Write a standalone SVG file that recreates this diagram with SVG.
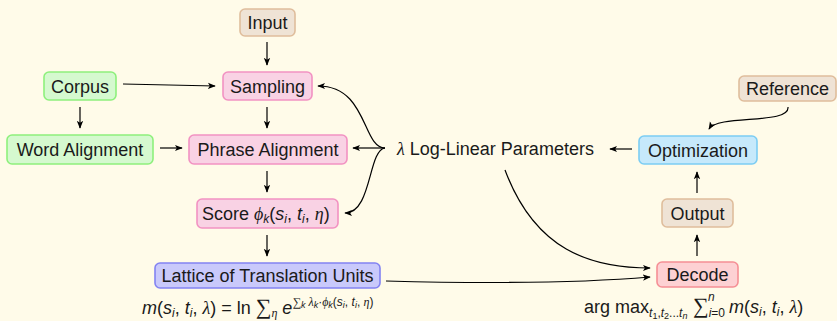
<svg xmlns="http://www.w3.org/2000/svg" width="837" height="321" viewBox="0 0 837 321">
<defs>
<marker id="ah" viewBox="0 0 10 10" refX="9" refY="5" markerWidth="8" markerHeight="8" markerUnits="userSpaceOnUse" orient="auto">
<path d="M0,1 L10,5 L0,9 L2.5,5 Z" fill="#000"/>
</marker>
</defs>
<style>
text{font-family:"Liberation Sans",Arial,sans-serif;font-size:18px;fill:#1a1a1a}
.n{text-anchor:middle}
.box{stroke-width:1.6}
.beige{fill:#efe3d5;stroke:#dfbd9c}
.green{fill:#d5f9cf;stroke:#8ef07c}
.pink{fill:#f9d2e4;stroke:#f292c2}
.blue{fill:#c9c9fb;stroke:#8383f2}
.cyan{fill:#c6e9fb;stroke:#7ccdf3}
.red{fill:#fdd1d3;stroke:#f58f95}
.c{fill:none;stroke:#000;stroke-width:1.2;marker-end:url(#ah)}
.m{font-style:italic}
.g{font-family:"Liberation Serif","Times New Roman",serif;font-style:italic}
.s{font-size:12px}
.ss{font-size:9px}
</style>
<rect width="837" height="321" fill="#fffbe9"/>
<g id="connectors">
<path class="c" d="M267,42 L267,65"/>
<path class="c" d="M123,84 L215,86"/>
<path class="c" d="M80,107 L80,128"/>
<path class="c" d="M267,107 L267,128"/>
<path class="c" d="M160,148 L182,148"/>
<path class="c" d="M267,171 L267,192"/>
<path class="c" d="M267,235 L267,256"/>
<path class="c" d="M385,148 L353,148"/>
<path class="c" d="M385,148 C362,148 368,86 318,86"/>
<path class="c" d="M385,148 C368,150 372,213 345,213"/>
<path class="c" d="M505,170 C535,250 590,268 650,268"/>
<path class="c" d="M386,281 C500,284 580,283 650,277"/>
<path class="c" d="M632,149 L610,149"/>
<path class="c" d="M788,107 C790,125 718,114 709,129"/>
<path class="c" d="M697,193 L697,172"/>
<path class="c" d="M697,256 L697,235"/>
</g>
<g id="input"><rect class="box beige" x="240" y="9" width="55" height="27" rx="5"/><text class="n" x="267.5" y="29">Input</text></g>
<g id="sampling"><rect class="box pink" x="223" y="72" width="89" height="28" rx="5"/><text class="n" x="267.5" y="92.5">Sampling</text></g>
<g id="corpus"><rect class="box green" x="44" y="72" width="72" height="28" rx="5"/><text class="n" x="80" y="92.5">Corpus</text></g>
<g id="word-alignment"><rect class="box green" x="7" y="135" width="146" height="29" rx="5"/><text class="n" x="80" y="156">Word Alignment</text></g>
<g id="phrase-alignment"><rect class="box pink" x="189" y="135" width="158" height="29" rx="5"/><text class="n" x="268" y="156">Phrase Alignment</text></g>
<g id="score"><rect class="box pink" x="197" y="199" width="141" height="29" rx="5"/><text x="202" y="220">Score <tspan class="g">ϕ</tspan><tspan class="m s" dy="3">k</tspan><tspan dy="-3">(</tspan><tspan class="m">s</tspan><tspan class="m s" dy="3">i</tspan><tspan dy="-3">, </tspan><tspan class="m">t</tspan><tspan class="m s" dy="3">i</tspan><tspan dy="-3">, </tspan><tspan class="g">η</tspan>)</text></g>
<g id="lattice"><rect class="box blue" x="155" y="263" width="225" height="25" rx="5"/><text class="n" x="267.5" y="282">Lattice of Translation Units</text></g>
<g id="log-linear"><text x="397" y="154.5"><tspan class="g">λ</tspan> Log-Linear Parameters</text></g>
<g id="reference"><rect class="box beige" x="739" y="76" width="97" height="25" rx="5"/><text class="n" x="787.5" y="95">Reference</text></g>
<g id="optimization"><rect class="box cyan" x="639" y="136" width="118" height="28" rx="5"/><text class="n" x="698" y="156.5">Optimization</text></g>
<g id="output"><rect class="box beige" x="662" y="199" width="71" height="28" rx="5"/><text class="n" x="697.5" y="219.5">Output</text></g>
<g id="decode"><rect class="box red" x="657" y="262" width="81" height="25" rx="5"/><text class="n" x="697.5" y="281">Decode</text></g>
<g id="formula-left"><text x="142" y="314"><tspan class="m">m</tspan>(<tspan class="m">s</tspan><tspan class="m s" dy="3">i</tspan><tspan dy="-3">, </tspan><tspan class="m">t</tspan><tspan class="m s" dy="3">i</tspan><tspan dy="-3">, </tspan><tspan class="g">λ</tspan>) = ln <tspan font-family="Liberation Serif" font-size="22">∑</tspan><tspan class="g s" dy="3">η</tspan><tspan class="m" dy="-3"> e</tspan><tspan class="s" dy="-8" font-family="Liberation Serif">∑</tspan><tspan class="m ss" dy="2">k</tspan><tspan class="g s" dy="-2"> λ</tspan><tspan class="m ss" dy="2">k</tspan><tspan class="s" dy="-2">·</tspan><tspan class="g s">ϕ</tspan><tspan class="m ss" dy="2">k</tspan><tspan class="s" dy="-2">(</tspan><tspan class="m s">s</tspan><tspan class="m ss" dy="2">i</tspan><tspan class="s" dy="-2">, </tspan><tspan class="m s">t</tspan><tspan class="m ss" dy="2">i</tspan><tspan class="s" dy="-2">, </tspan><tspan class="g s">η</tspan><tspan class="s">)</tspan></text></g>
<g id="formula-right"><text x="584" y="313">arg max<tspan class="m s" dy="4">t</tspan><tspan class="ss" dy="2">1</tspan><tspan class="s" dy="-2">,</tspan><tspan class="m s">t</tspan><tspan class="ss" dy="2">2</tspan><tspan class="s" dy="-2">...</tspan><tspan class="m s">t</tspan><tspan class="m ss" dy="2">n</tspan><tspan dy="-6" font-family="Liberation Serif" font-size="22"> ∑</tspan><tspan class="m s" dy="4">i</tspan><tspan class="s">=0</tspan><tspan class="m" dx="4" dy="-4">m</tspan>(<tspan class="m">s</tspan><tspan class="m s" dy="3">i</tspan><tspan dy="-3">, </tspan><tspan class="m">t</tspan><tspan class="m s" dy="3">i</tspan><tspan dy="-3">, </tspan><tspan class="g">λ</tspan>)</text><text class="m s" x="708" y="301">n</text></g>
</svg>
